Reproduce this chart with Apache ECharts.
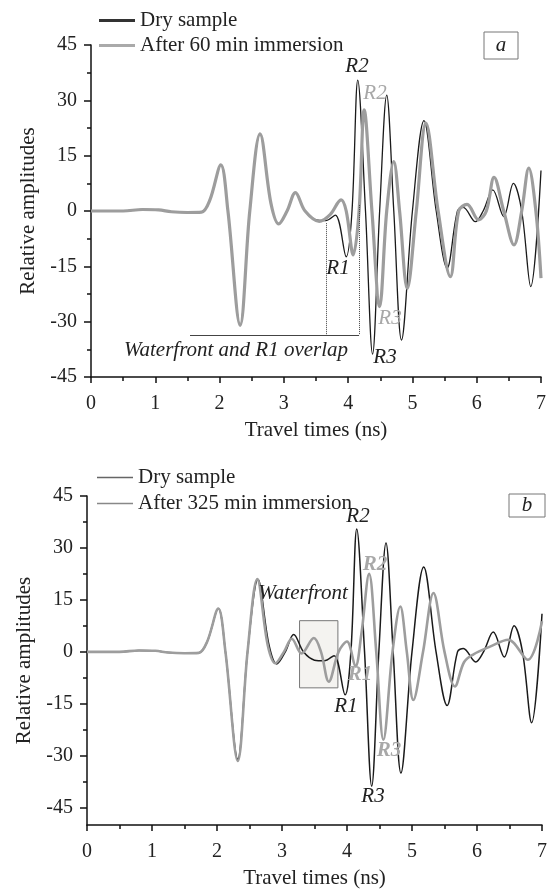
<html style="height: 100%">
<head>
	<meta charset="utf-8">
	<script type="text/javascript" src="https://cdn.jsdelivr.net/npm/echarts@6/dist/echarts.min.js"></script>
</head>

<body style="height: 100%; margin: 0; background: #fff">
	<div id="container" style="height:892px;width:550px"></div>
</body>

<script type="text/javascript">
	var dom = document.getElementById("container");
	var myChart = echarts.init(dom);

	// dry sample trace (same in both panels)
	let dryTime = [0, 0.5, 0.8, 1.05, 1.25, 1.5, 1.72, 1.85, 2.02, 2.13, 2.32, 2.47, 2.63, 2.8, 2.92, 3.05, 3.18, 3.33, 3.5, 3.65, 3.8, 3.97, 4.06, 4.15, 4.27, 4.38, 4.49, 4.6, 4.71, 4.83, 5.0, 5.18, 5.37, 5.54, 5.7, 5.79, 5.98, 6.1, 6.25, 6.42, 6.57, 6.7, 6.84, 7.0]
	let dryAmp = [0, 0, 0.4, 0.3, -0.2, -0.4, -0.3, 3, 12.5, 0, -31, 0, 20.9, 2, -3.5, 0, 5.0, 0, -2.4, -2.6, -1.1, -12.4, 0, 35.5, 0, -38.8, 0, 31.4, 0, -35, 0, 24.5, 0, -15.5, 0, 1.0, -2.9, 0, 5.7, -1.5, 7.5, 0, -20.5, 11]

	// after 60 min immersion
	let wet60Time = [0, 0.5, 0.8, 1.05, 1.25, 1.5, 1.72, 1.85, 2.02, 2.13, 2.32, 2.47, 2.63, 2.8, 2.92, 3.05, 3.18, 3.33, 3.55, 3.72, 3.89, 3.97, 4.08, 4.17, 4.25, 4.37, 4.49, 4.6, 4.71, 4.8, 4.92, 5.06, 5.21, 5.4, 5.59, 5.72, 5.85, 6.03, 6.15, 6.27, 6.42, 6.58, 6.7, 6.81, 6.92, 7.0]
	let wet60Amp = [0, 0, 0.4, 0.3, -0.2, -0.4, -0.3, 3, 12.5, 0, -31, 0, 20.9, 2, -3.5, 0, 5.0, 0, -2.8, -1, 3.0, 0, -11.9, 0, 27.4, 0, -25.9, 0, 13.4, 0, -21, 0, 23.8, 0, -17.8, 0, 1.8, -2.4, 0, 9.1, 0, -9.2, 0, 11.6, 0, -18.2]

	// after 325 min immersion
	let wet325Time = [0, 0.5, 0.8, 1.05, 1.25, 1.5, 1.72, 1.85, 2.02, 2.13, 2.32, 2.47, 2.62, 2.78, 2.9, 3.03, 3.15, 3.3, 3.49, 3.6, 3.72, 3.87, 4.0, 4.13, 4.22, 4.34, 4.45, 4.56, 4.7, 4.82, 4.92, 5.02, 5.17, 5.33, 5.5, 5.66, 5.8, 5.94, 6.2, 6.48, 6.78, 7.0]
	let wet325Amp = [0, 0, 0.4, 0.3, -0.2, -0.4, -0.3, 3, 12.5, 0, -31.5, 0, 21, 2, -3.3, 0, 3.8, -0.5, 4.0, 0, -8.6, 0, 3.0, -4.2, 5, 22.5, 0, -25.4, 0, 13.1, 0, -13.9, 0, 17, 0, -10, -3, -0.8, 1.5, 3.5, -2.3, 8.8]

	let yTicks = [-45, -30, -15, 0, 15, 30, 45]
	let yMinor = [-37.5, -22.5, -7.5, 7.5, 22.5, 37.5]

	// "Waterfront and R1 overlap" guide lines (panel a) and waterfront box (panel b)
	let overlapLines = [
		[[3.66, -3.3], [3.66, -33.6]],
		[[4.17, 1.6], [4.17, -33.6]],
		[[1.54, -33.6], [4.17, -33.6]]
	]
	let waterfrontBox = [[3.27, 9.0], [3.86, -10.4]]

	function pairs(t, a) {
		return t.map((v, i) => [v, a[i]])
	}

	const serif = 'Liberation Serif'
	const axisCol = '#111'

	function xAxisOf(grid) {
		return {
			type: 'value', gridIndex: grid, min: 0, max: 7, interval: 1,
			name: 'Travel times (ns)', nameLocation: 'middle', nameGap: 43,
			nameTextStyle: { fontFamily: serif, fontSize: 21, color: '#222' },
			axisLine: { show: true, onZero: false, lineStyle: { color: axisCol, width: 1.5 } },
			axisTick: { show: true, length: 6, lineStyle: { color: axisCol, width: 1.5 } },
			minorTick: { show: true, splitNumber: 2, length: 4, lineStyle: { color: axisCol, width: 1.5 } },
			axisLabel: { fontFamily: serif, fontSize: 20, color: '#222', margin: 17 },
			splitLine: { show: false }
		}
	}

	const yName = {
		name: 'Relative amplitudes', nameLocation: 'middle', nameGap: 50,
		nameTextStyle: { fontFamily: serif, fontSize: 21, color: '#222' }
	}

	var option = {
		animation: false,
		backgroundColor: '#fff',
		textStyle: { fontFamily: serif },
		grid: [
			{ left: 91, top: 45, width: 450, height: 332 },
			{ left: 87, top: 496, width: 457, height: 329 }
		],
		legend: [
			{
				left: 99, top: 10, orient: 'vertical', padding: 0, itemGap: 4, selectedMode: false,
				icon: 'rect', itemWidth: 36, itemHeight: 3,
				textStyle: { fontFamily: serif, fontSize: 21, color: '#222', lineHeight: 18 },
				data: [
					{ name: 'Dry sample', itemStyle: { color: '#333' } },
					{ name: 'After 60 min immersion', itemStyle: { color: '#aaa' } }
				]
			},
			{
				left: 97, top: 467, orient: 'vertical', padding: 0, itemGap: 5, selectedMode: false,
				icon: 'rect', itemWidth: 36, itemHeight: 1.5,
				textStyle: { fontFamily: serif, fontSize: 21, color: '#222', lineHeight: 18 },
				data: [
					{ name: 'Dry sample', itemStyle: { color: '#666' } },
					{ name: 'After 325 min immersion', itemStyle: { color: '#888' } }
				]
			}
		],
		xAxis: [xAxisOf(0), xAxisOf(1)],
		yAxis: [
			Object.assign({
				type: 'value', gridIndex: 0, min: -45, max: 45, interval: 15,
				axisLine: { show: true, lineStyle: { color: axisCol, width: 1.5 } },
				axisTick: { show: true, length: 7, lineStyle: { color: axisCol, width: 1.5 } },
				minorTick: { show: true, splitNumber: 2, length: 4, lineStyle: { color: axisCol, width: 1.5 } },
				axisLabel: { fontFamily: serif, fontSize: 20, color: '#222', margin: 14 },
				splitLine: { show: false }
			}, yName),
			Object.assign({
				type: 'value', gridIndex: 1, min: -50, max: 45,
				axisLine: { show: true, onZero: false, lineStyle: { color: axisCol, width: 1.5 } },
				axisTick: { show: true, length: 7, customValues: yTicks, lineStyle: { color: axisCol, width: 1.5 } },
				axisLabel: { fontFamily: serif, fontSize: 20, color: '#222', margin: 14, customValues: yTicks },
				splitLine: { show: false }
			}, yName),
			{
				// minor ticks only for the lower panel
				type: 'value', gridIndex: 1, min: -50, max: 45, position: 'left', offset: 0,
				axisLine: { show: false },
				axisTick: { show: true, length: 4, customValues: yMinor, lineStyle: { color: axisCol, width: 1.5 } },
				axisLabel: { show: false },
				splitLine: { show: false }
			}
		],
		series: [
			{
				name: 'Dry sample', type: 'line', xAxisIndex: 0, yAxisIndex: 0,
				data: pairs(dryTime, dryAmp), smooth: 0.35, showSymbol: false,
				lineStyle: { color: '#1a1a1a', width: 1.3 }, itemStyle: { color: '#1a1a1a' },
				markLine: {
					silent: true, symbol: 'none', label: { show: false },
					data: overlapLines.map((s, i) => [
						{ coord: s[0], lineStyle: { type: i < 2 ? 'dotted' : 'solid', color: '#444', width: 1 } },
						{ coord: s[1] }
					])
				}
			},
			{
				name: 'After 60 min immersion', type: 'line', xAxisIndex: 0, yAxisIndex: 0,
				data: pairs(wet60Time, wet60Amp), smooth: 0.35, showSymbol: false,
				lineStyle: { color: '#9d9d9d', width: 3.2 }, itemStyle: { color: '#9d9d9d' }
			},
			{
				name: 'Dry sample', type: 'line', xAxisIndex: 1, yAxisIndex: 1,
				data: pairs(dryTime, dryAmp), smooth: 0.35, showSymbol: false,
				lineStyle: { color: '#1a1a1a', width: 1.5 }, itemStyle: { color: '#1a1a1a' },
				markArea: {
					silent: true,
					itemStyle: { color: '#f4f3f0', borderColor: '#777', borderWidth: 1 },
					data: [[{ coord: waterfrontBox[0] }, { coord: waterfrontBox[1] }]]
				}
			},
			{
				name: 'After 325 min immersion', type: 'line', xAxisIndex: 1, yAxisIndex: 1,
				data: pairs(wet325Time, wet325Amp), smooth: 0.35, showSymbol: false,
				lineStyle: { color: '#9d9d9d', width: 2.6 }, itemStyle: { color: '#9d9d9d' }
			}
		],
		graphic: [
			{ type: 'rect', shape: { x: 484, y: 32, width: 34, height: 27 }, style: { fill: '#fff', stroke: '#777', lineWidth: 1 } },
			{ type: 'text', x: 501, y: 45.5, style: { text: 'a', font: 'italic 21px "Liberation Serif"', fill: '#222', align: 'center', verticalAlign: 'middle' } },
			{ type: 'rect', shape: { x: 509, y: 494, width: 36, height: 23 }, style: { fill: '#fff', stroke: '#777', lineWidth: 1 } },
			{ type: 'text', x: 527, y: 505.5, style: { text: 'b', font: 'italic 21px "Liberation Serif"', fill: '#222', align: 'center', verticalAlign: 'middle' } }
		].concat([
			// panel a labels
			['R2', 357, 66, '#222', 'normal'],
			['R2', 375, 93, '#a8a8a8', 'normal'],
			['R1', 338, 268, '#222', 'normal'],
			['R3', 390, 318, '#a8a8a8', 'normal'],
			['R3', 385, 357, '#222', 'normal'],
			['Waterfront and R1 overlap', 236, 350, '#222', 'normal'],
			// panel b labels
			['R2', 358, 516, '#222', 'normal'],
			['R2', 375, 565, '#a8a8a8', 'bold'],
			['Waterfront', 303, 593, '#222', 'normal'],
			['R1', 360, 675, '#a8a8a8', 'bold'],
			['R1', 346, 706, '#222', 'normal'],
			['R3', 389, 751, '#a8a8a8', 'bold'],
			['R3', 373, 796, '#222', 'normal']
		].map(l => ({
			type: 'text', x: l[1], y: l[2], z: 10,
			style: { text: l[0], font: 'italic ' + l[4] + ' 21px "Liberation Serif"', fill: l[3], align: 'center', verticalAlign: 'middle' }
		})))
	};

	myChart.setOption(option);
</script>

</html>
